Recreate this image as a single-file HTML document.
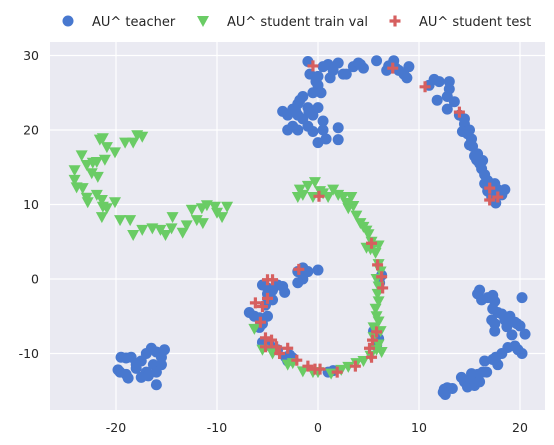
<!DOCTYPE html>
<html><head><meta charset="utf-8"><style>
html,body{margin:0;padding:0;background:#fff;}
svg{display:block;font-family:"DejaVu Sans","Liberation Sans",sans-serif;}
</style></head><body>
<svg id="chart" width="554" height="445">
<rect x="50" y="42" width="495" height="368" fill="#EAEAF2"/>
<g id="grid"></g>
<g id="ticks"></g>
<g id="marks"></g>
<g id="legend"></g>
</svg>
<script>
const xTicks=[-20,-10,0,10,20];
const yTicks=[-10,0,10,20,30];
const teacher=[[-19.5,-10.5],[-19,-10.6],[-18.5,-10.5],[-19.6,-12.5],[-19,-12.8],[-18.8,-13.3],[-18,-12],[-17.5,-11],[-17,-10],[-16.5,-9.3],[-16,-9.8],[-15.5,-10.5],[-15.2,-9.5],[-16.3,-11.5],[-17,-12.5],[-17.5,-13.2],[-16.8,-13],[-16,-12.5],[-15.5,-11.5],[-16,-14.2],[-18,-11.5],[-19.8,-12.2],
[-1,29.2],[-0.8,27.5],[0,27.2],[0.5,28.5],[1,28.8],[1.5,28],[2,29],[2.5,27.5],[1.2,27],[0,26],[-0.5,25],[0.3,25],[-0.2,26.5],[-3.5,22.5],[-3,22],[-2.5,22.8],[-2,23.5],[-1.5,24.5],[-1,23],[-2,22],[-1.5,21.5],[-2.5,20.5],[-2,20],[-1,20.5],[-0.5,22],[0,23],[-3,20],[-0.5,19.8],[0.5,20],[0.5,21.2],[0,18.3],[0.8,18.8],[2,20.3],[2,18.7],[-1.8,24],[-0.9,22.4],[-2.2,22.5],
[3.5,28.5],[4,29],[4.5,28.3],[5.8,29.3],[7,28.6],[7.5,29.3],[8,28],[8.5,27.5],[9,28.5],[8.8,27],[6.8,28],[7.7,28.3],[2.8,27.5],[4.2,28.8],
[11,26],[11.5,26.8],[12,26.5],[11.8,24],[12.8,24.5],[13,26.5],[13,25.5],[13.5,23.8],[12.8,22.8],[14,22],[14.5,21.5],[14.5,20.8],[14.3,19.8],[14.8,19.5],[15,20],[15.2,18.8],[15.3,17.8],[15,18],[15.5,16.5],[15.7,16],[16,15.5],[16.2,14.8],[16.5,14],[16.8,13.2],[17,12.5],[17.5,12.8],[17.8,12],[16.8,11.8],[17.2,11],[17.6,10.2],[18.2,11.3],[18.5,12],[16.5,12.8],[15.8,16.8],[16.3,15.9],
[15.8,-2],[16.2,-2.8],[16.8,-2.5],[17.3,-2.2],[17.5,-3],[16,-1.5],[17.3,-4],[17.8,-4.5],[18.2,-4.7],[17.2,-5.5],[17.5,-6],[18.5,-5.5],[19,-5],[19.5,-5.8],[20,-6.3],[19.7,-6],[20.2,-2.5],[18.7,-6.4],[17.5,-7],[19.2,-7.5],[20.5,-7.4],[19.8,-9.5],[20.2,-10],[19.5,-9],[18.8,-9.2],[18.2,-10],[17.6,-10.5],[17.3,-10.8],[16.5,-11],[17.8,-11.5],[16.3,-12.5],[15.8,-12.8],[15.2,-12.7],[15,-13.5],[14.5,-13.8],[14.8,-14.5],[15.5,-14.3],[14.2,-13.2],[16.7,-12.5],[16,-13.8],
[12.5,-14.8],[12.8,-14.6],[13.3,-14.7],[12.6,-15.5],[12.4,-15.2],
[-2,1],[-1.5,1.5],[-1,1],[-1.5,0],[-2,-0.5],[0,1.2],[-5.5,-0.8],[-5,-1.2],[-4.5,-1.5],[-4,-0.8],[-3.5,-1],[-3.3,-1.8],[-5,-2],[-4.5,-2.8],[-5.2,-3.5],[-6.8,-4.5],[-6.3,-5],[-5.8,-5.2],[-5.5,-6],[-5,-5],[-5.8,-6.5],[-5.5,-8.5],[-5,-8.8],[-4.7,-9],[-3.2,-10.5],[-3,-11],[-2.5,-10.6],[-2.8,-10.2],[1,-12.5],[1.5,-12.3],[-4,-9.5],[6.3,0.5],[6.1,-0.5],[6,-8],[5.5,-7],[5.7,-7.5],[5.8,-9]];
const trainVal=[[-21.6,18.7],[-21.3,18.9],[-20.9,17.7],[-20.1,17.0],[-17.9,19.3],[-17.4,19.1],[-19.1,18.3],[-18.3,18.3],[-23.4,16.6],[-22.9,15.3],[-22.3,15.6],[-21.9,15.7],[-21.1,16.0],[-24.1,14.6],[-22.4,14.2],[-21.8,13.7],[-24.1,13.3],[-23.9,12.3],[-23.3,12.2],[-22.9,10.9],[-22.8,10.3],[-21.9,11.3],[-21.4,10.6],[-21.3,9.7],[-20.9,9.5],[-20.1,10.3],[-21.4,8.3],[-19.6,7.9],[-18.6,7.9],[-18.3,5.9],[-17.4,6.6],[-16.4,6.8],[-15.6,6.6],[-15.1,5.9],[-14.5,6.8],[-14.4,8.3],[-13.4,6.2],[-13.0,7.2],[-12.5,9.3],[-12.0,7.9],[-11.5,9.5],[-11.0,9.9],[-10.2,9.7],[-10.0,8.9],[-9.5,8.3],[-9.0,9.7],[-11.4,7.5],
[-1.8,12],[-1.5,11.3],[-1,12.5],[-0.5,11],[-0.3,13],[0.5,11.5],[1,11],[1.5,12],[2,11.3],[2.5,11],[2.8,10.2],[3,9.5],[3.3,11],[3.8,8.5],[4.2,7.5],[4.5,7],[4.8,6.5],[5,6],[5.3,5],[5.5,4.5],[5.7,3.5],[6,4.5],[5.2,4],[-2,11],[0.2,11.8],[3.5,9.8],[4.8,4.2],
[6,2],[6.2,1],[5.8,0],[6,-1],[5.9,-2],[6,-3],[5.7,-4],[5.8,-5],[6,-5.7],[5.5,-6.5],[6.2,-7],[5.5,-7.8],[6,-8.8],[6.3,-9.8],[5.8,-9.5],[5.2,-10.3],[4.5,-11],[3.8,-11.3],[3,-11.8],[2.3,-12.2],[0,-12.5],[-0.5,-12.5],[-1.5,-12.4],[-3,-11.5],[-4.5,-10],[-5.5,-9.5],[-6.3,-6.7],[1.3,-12.7],[-2.5,-11.3]];
const test=[[-1.9,1.3],[-5,-0.1],[-4.5,-0.1],[-5,-2.6],[-6.2,-3.2],[-5.5,-3.7],[-5.7,-5.8],[-5.2,-7.9],[-4.6,-8.2],[-5.2,-9.1],[-4.1,-9.1],[-3.8,-10],[-3,-9.3],[-2.1,-10.9],[-1,-11.7],[-0.3,-12.1],[0.2,-12.1],[1.9,-12.5],[3.7,-11.7],[5.3,-10.5],[5.1,-9.3],[5.4,-8.2],[5.8,-7.1],[5.9,1.9],[6.3,0.3],[6.4,-1.2],[5.3,4.8],[0.1,11.1],[-0.5,28.6],[7.4,28.3],[10.6,25.8],[14,22.4],[17,12.2],[17.8,11],[17,10.6]];
const seriesNames=["AU^ teacher","AU^ student train val","AU^ student test"];

const NS="http://www.w3.org/2000/svg";
const X=v=>318+v*10.1, Y=v=>279-v*7.45;
function mk(tag,attrs,parent){const e=document.createElementNS(NS,tag);for(const k in attrs)e.setAttribute(k,attrs[k]);parent.appendChild(e);return e;}
const grid=document.getElementById('grid'),ticks=document.getElementById('ticks'),marks=document.getElementById('marks'),legend=document.getElementById('legend');
xTicks.forEach(t=>{
  const l=mk('line',{x1:X(t),x2:X(t),y1:42,y2:410,stroke:'#fff','stroke-width':1.2},grid);
  
  
  const tx=mk('text',{x:X(t),y:432,'text-anchor':'middle','font-size':12.5,fill:'#262626'},ticks);
  tx.textContent=t;
  
  
});
yTicks.forEach(t=>{
  const l=mk('line',{x1:50,x2:545,y1:Y(t),y2:Y(t),stroke:'#fff','stroke-width':1.2},grid);
  
  
  const tx=mk('text',{x:39,y:Y(t)+4.5,'text-anchor':'end','font-size':12.5,fill:'#262626'},ticks);
  tx.textContent=t;
  
  
});
function circle(x,y,p){return mk('circle',{cx:x,cy:y,r:5.5,fill:'#4878CF'},p);}
function tri(x,y,p){return mk('path',{d:`M${x-6},${y-5}L${x+6},${y-5}L${x},${y+6}Z`,fill:'#6ACC65'},p);}
function plus(x,y,p){return mk('path',{d:`M${x-5.5},${y}H${x+5.5}M${x},${y-5.5}V${y+5.5}`,stroke:'#D65F5F','stroke-width':3.2},p);}
teacher.forEach(d=>{const e=circle(X(d[0]),Y(d[1]),marks);
  
  });
trainVal.forEach(d=>{const e=tri(X(d[0]),Y(d[1]),marks);
  
  });
test.forEach(d=>{const e=plus(X(d[0]),Y(d[1]),marks);
  
  });
const lx=[68,203,395];
const fns=[circle,tri,plus];
seriesNames.forEach((n,i)=>{
  const m=fns[i](lx[i],21,legend);
  
  
  const t=mk('text',{x:lx[i]+24,y:26,'font-size':13,fill:'#262626'},legend);
  t.textContent=n;
  
  
});
</script>
</body></html>
